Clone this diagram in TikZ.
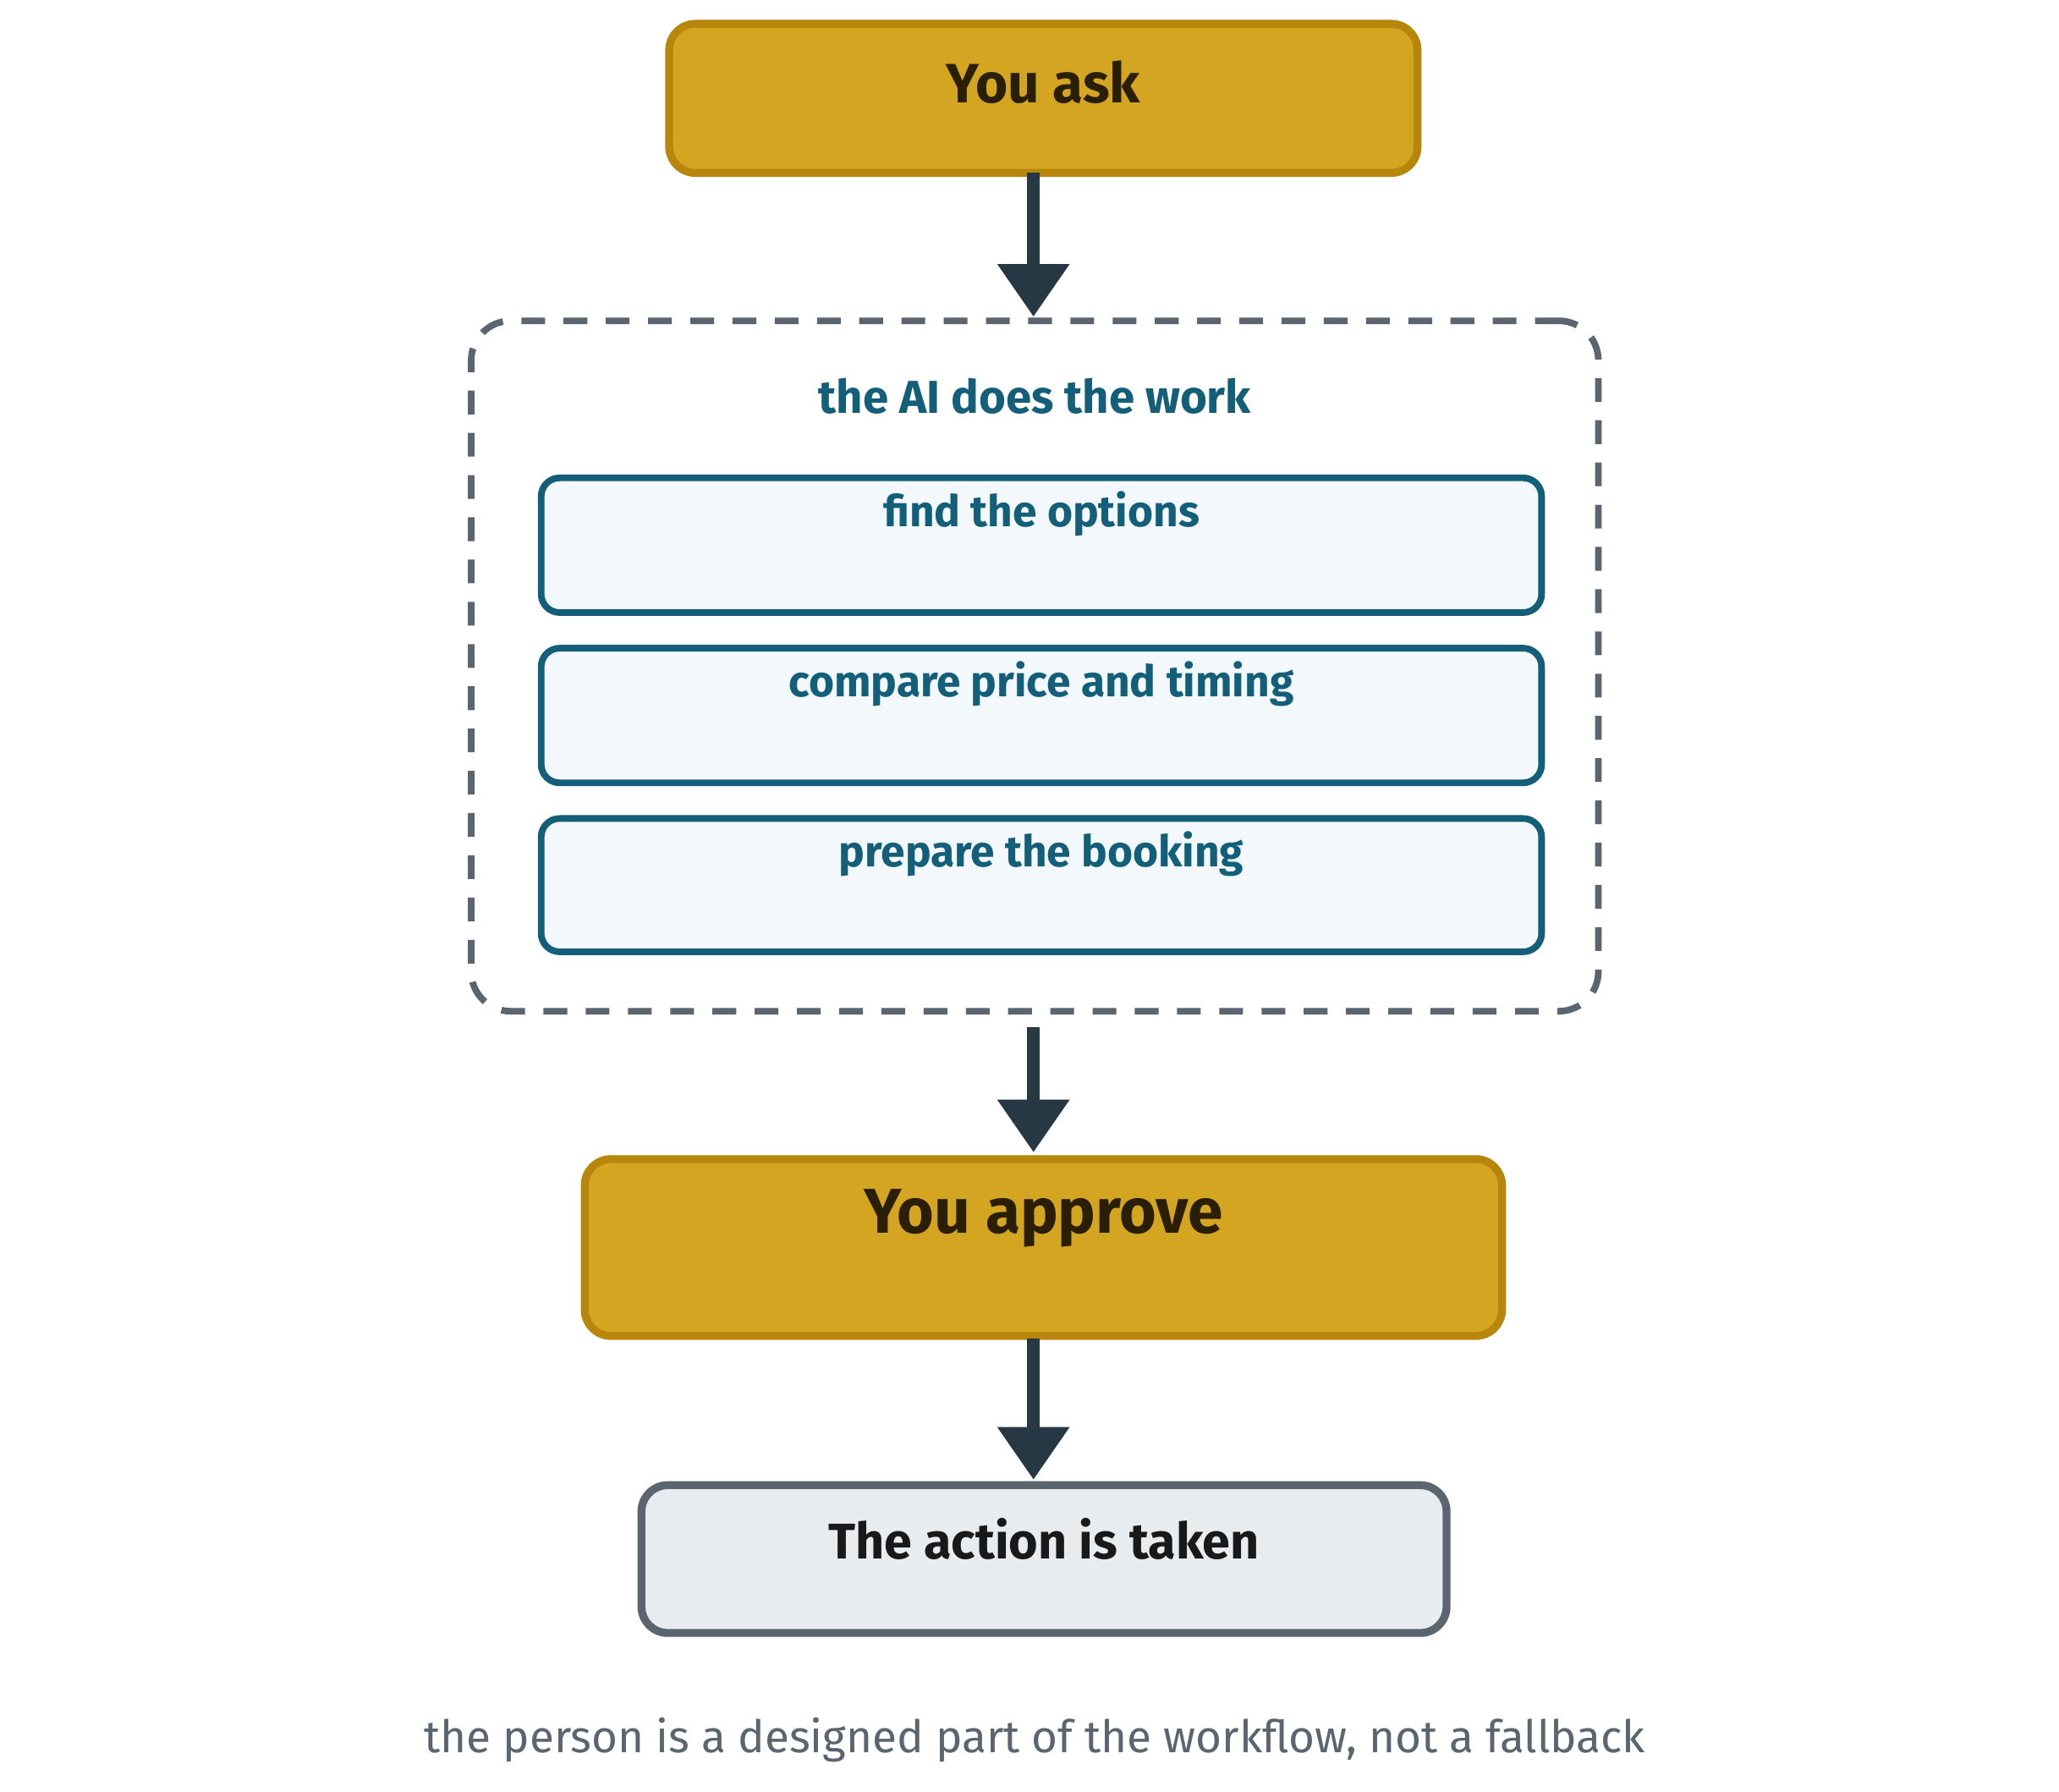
\documentclass[tikz,border=0pt]{standalone}
\usepackage{fontspec}
\setmainfont{Fira Sans}
\usetikzlibrary{arrows.meta}
\definecolor{gold}{HTML}{D4A520}
\definecolor{goldline}{HTML}{B8860B}
\definecolor{goldtext}{HTML}{2A1F05}
\definecolor{teal}{HTML}{135E78}
\definecolor{tealfill}{HTML}{F2F8FB}
\definecolor{slate}{HTML}{5A6570}
\definecolor{greyfill}{HTML}{E8ECEF}
\definecolor{arrowc}{HTML}{263843}
\begin{document}
\begin{tikzpicture}[x=0.5pt,y=-0.5pt,
  box/.style={draw,rounded corners=10pt,line width=3pt,inner sep=0pt},
  goldbox/.style={box,fill=gold,draw=goldline},
  stepbox/.style={box,fill=tealfill,draw=teal,line width=2.5pt,rounded corners=7pt},
  arr/.style={draw=arrowc,line width=5pt,-{Triangle[width=26pt,length=20pt]}},
  lbl/.style={font=\bfseries,inner sep=0pt}]
\fill[white] (0,0) rectangle (1560,1357);
\node[goldbox,minimum width=283.5pt,minimum height=56.5pt] (ask) at (790.5,74.5) {};
\node[lbl,text=goldtext,font=\bfseries\fontsize{21}{25}\selectfont] at (790.5,62) {You ask};
\node[box,draw=slate,dash pattern=on 9pt off 7pt,rounded corners=15pt,line width=2.5pt,minimum width=427pt,minimum height=261.5pt] (ai) at (784,504.5) {};
\node[lbl,text=teal,font=\bfseries\fontsize{17.5}{21}\selectfont] at (784,300) {the AI does the work};
\node[stepbox,minimum width=379pt,minimum height=51pt] (s1) at (789,413) {};
\node[lbl,text=teal,font=\bfseries\fontsize{16.5}{20}\selectfont] at (789,389) {find the options};
\node[stepbox,minimum width=379pt,minimum height=51pt] (s2) at (789,542) {};
\node[lbl,text=teal,font=\bfseries\fontsize{16.5}{20}\selectfont] at (789,518) {compare price and timing};
\node[stepbox,minimum width=379pt,minimum height=50.5pt] (s3) at (789,670.5) {};
\node[lbl,text=teal,font=\bfseries\fontsize{16.5}{20}\selectfont] at (789,647) {prepare the booking};
\node[goldbox,minimum width=347.5pt,minimum height=67pt] (appr) at (790.5,945) {};
\node[lbl,text=goldtext,font=\bfseries\fontsize{24}{28}\selectfont] at (790.5,923) {You approve};
\node[box,fill=greyfill,draw=slate,minimum width=305pt,minimum height=56pt] (act) at (791,1181) {};
\node[lbl,text=black!90,font=\bfseries\fontsize{19}{23}\selectfont] at (791,1166) {The action is taken};
\node[inner sep=0pt,text=slate,font=\fontsize{17}{21}\selectfont] (cap) at (784,1318) {the person is a designed part of the workflow, not a fallback};
\coordinate (a1s) at (783,131); \coordinate (a1e) at (783,240);
\coordinate (a2s) at (783,778); \coordinate (a2e) at (783,873);
\coordinate (a3s) at (783,1014); \coordinate (a3e) at (783,1121);
\draw[arr] (a1s) -- (a1e);
\draw[arr] (a2s) -- (a2e);
\draw[arr] (a3s) -- (a3e);
\end{tikzpicture}
\end{document}
